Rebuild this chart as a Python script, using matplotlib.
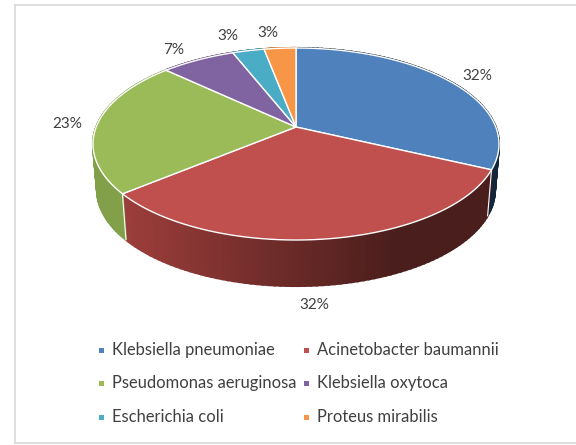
import numpy as np
import matplotlib
matplotlib.use("Agg")
import matplotlib.pyplot as plt
from matplotlib.patches import Polygon, Rectangle

plt.rcParams["font.family"] = ["Lato", "DejaVu Sans"]

names = ["Klebsiella pneumoniae", "Acinetobacter baumannii", "Pseudomonas aeruginosa",
         "Klebsiella oxytoca", "Escherichia coli", "Proteus mirabilis"]
values = [32, 32, 23, 7, 3, 3]
colors = ["#4f81bd", "#c0504d", "#9bbb59", "#8064a2", "#4bacc6", "#f79646"]
side_left = ["#1f3550", "#a03f3c", "#82a04a", "#6b5488", "#3f90a6", "#cf7d3a"]
side_right = ["#14263c", "#4a1e1c", "#7a9644", "#6b5488", "#3f90a6", "#cf7d3a"]
labels = ["32%", "32%", "23%", "7%", "3%", "3%"]
label_xy = [(477, 76), (314, 305), (67, 124), (174, 50), (228, 36), (268, 33)]
legend_xy = [(101, 350), (306, 350), (101, 383), (306, 383), (101, 417), (306, 417)]

# rim ellipse in pixels, apex sits above the ellipse centre because of the 3d view
cx, cy, rx, ry = 296, 144, 203, 96
apex = 17 / 96
depth, shrink = 46, 0.98


def rim(frac):
    # fraction clockwise from 12 o'clock -> pixel position on top face
    a = 2 * np.pi * np.asarray(frac)
    u, v = np.sin(a), np.cos(a)
    d = 1 + apex * v
    x = u * np.sqrt(1 - apex ** 2) / d
    y = (v + apex) / d
    return cx + rx * x, cy - ry * y


def blend(c1, c2, t):
    a = np.array(matplotlib.colors.to_rgb(c1))
    b = np.array(matplotlib.colors.to_rgb(c2))
    return a + (b - a) * t


fig = plt.figure(figsize=(5.76, 4.45), dpi=100)
ax = fig.add_axes([0, 0, 1, 1])
ax.set_xlim(0, 576)
ax.set_ylim(445, 0)
ax.axis("off")

# frame: only left, top and bottom lines show in the crop
ax.plot([14.5, 14.5], [4.5, 443], color="#d9d9d9", lw=1.2)
ax.plot([14.5, 576], [4.5, 4.5], color="#d9d9d9", lw=1.2)
ax.plot([14.5, 576], [443, 443], color="#d9d9d9", lw=1.2)

edges = np.cumsum([0] + values) / sum(values)

# side wall first, the top face covers whatever is behind
for i in range(len(values)):
    ts = np.linspace(edges[i], edges[i + 1], 80)
    xs, ys = rim(ts)
    xb = cx + (xs - cx) * shrink
    yb = ys + depth
    for j in range(len(ts) - 1):
        t = (xs[j] - 93) / 406
        col = blend(side_left[i], side_right[i], min(1, max(0, (t - 0.05) / 0.7)))
        ax.add_patch(Polygon([(xs[j], ys[j]), (xs[j + 1], ys[j + 1]), (xb[j + 1], yb[j + 1]), (xb[j], yb[j])],
                             fc=col, ec=col, lw=1.5, zorder=2))
    # white seam where a wedge edge meets the wall
    ax.plot([xs[0], xb[0]], [ys[0], yb[0]], color="white", lw=0.8, zorder=2.5)

for i in range(len(values)):
    ts = np.linspace(edges[i], edges[i + 1], 120)
    xs, ys = rim(ts)
    pts = [(cx, cy - ry * apex)] + list(zip(xs, ys))
    ax.add_patch(Polygon(pts, fc=colors[i], ec="white", lw=1.0, zorder=3, joinstyle="round"))

for txt, (x, y) in zip(labels, label_xy):
    ax.text(x, y, txt, fontsize=11, color="#404040", ha="center", va="center", zorder=5)

for name, col, (x, y) in zip(names, colors, legend_xy):
    ax.add_patch(Rectangle((x - 2.5, y - 2.5), 5, 5, fc=col, ec="none", zorder=5))
    ax.text(x + 11, y, name, fontsize=11.9, color="#404040", ha="left", va="center", zorder=5)

fig.savefig("out.png", dpi=100)
